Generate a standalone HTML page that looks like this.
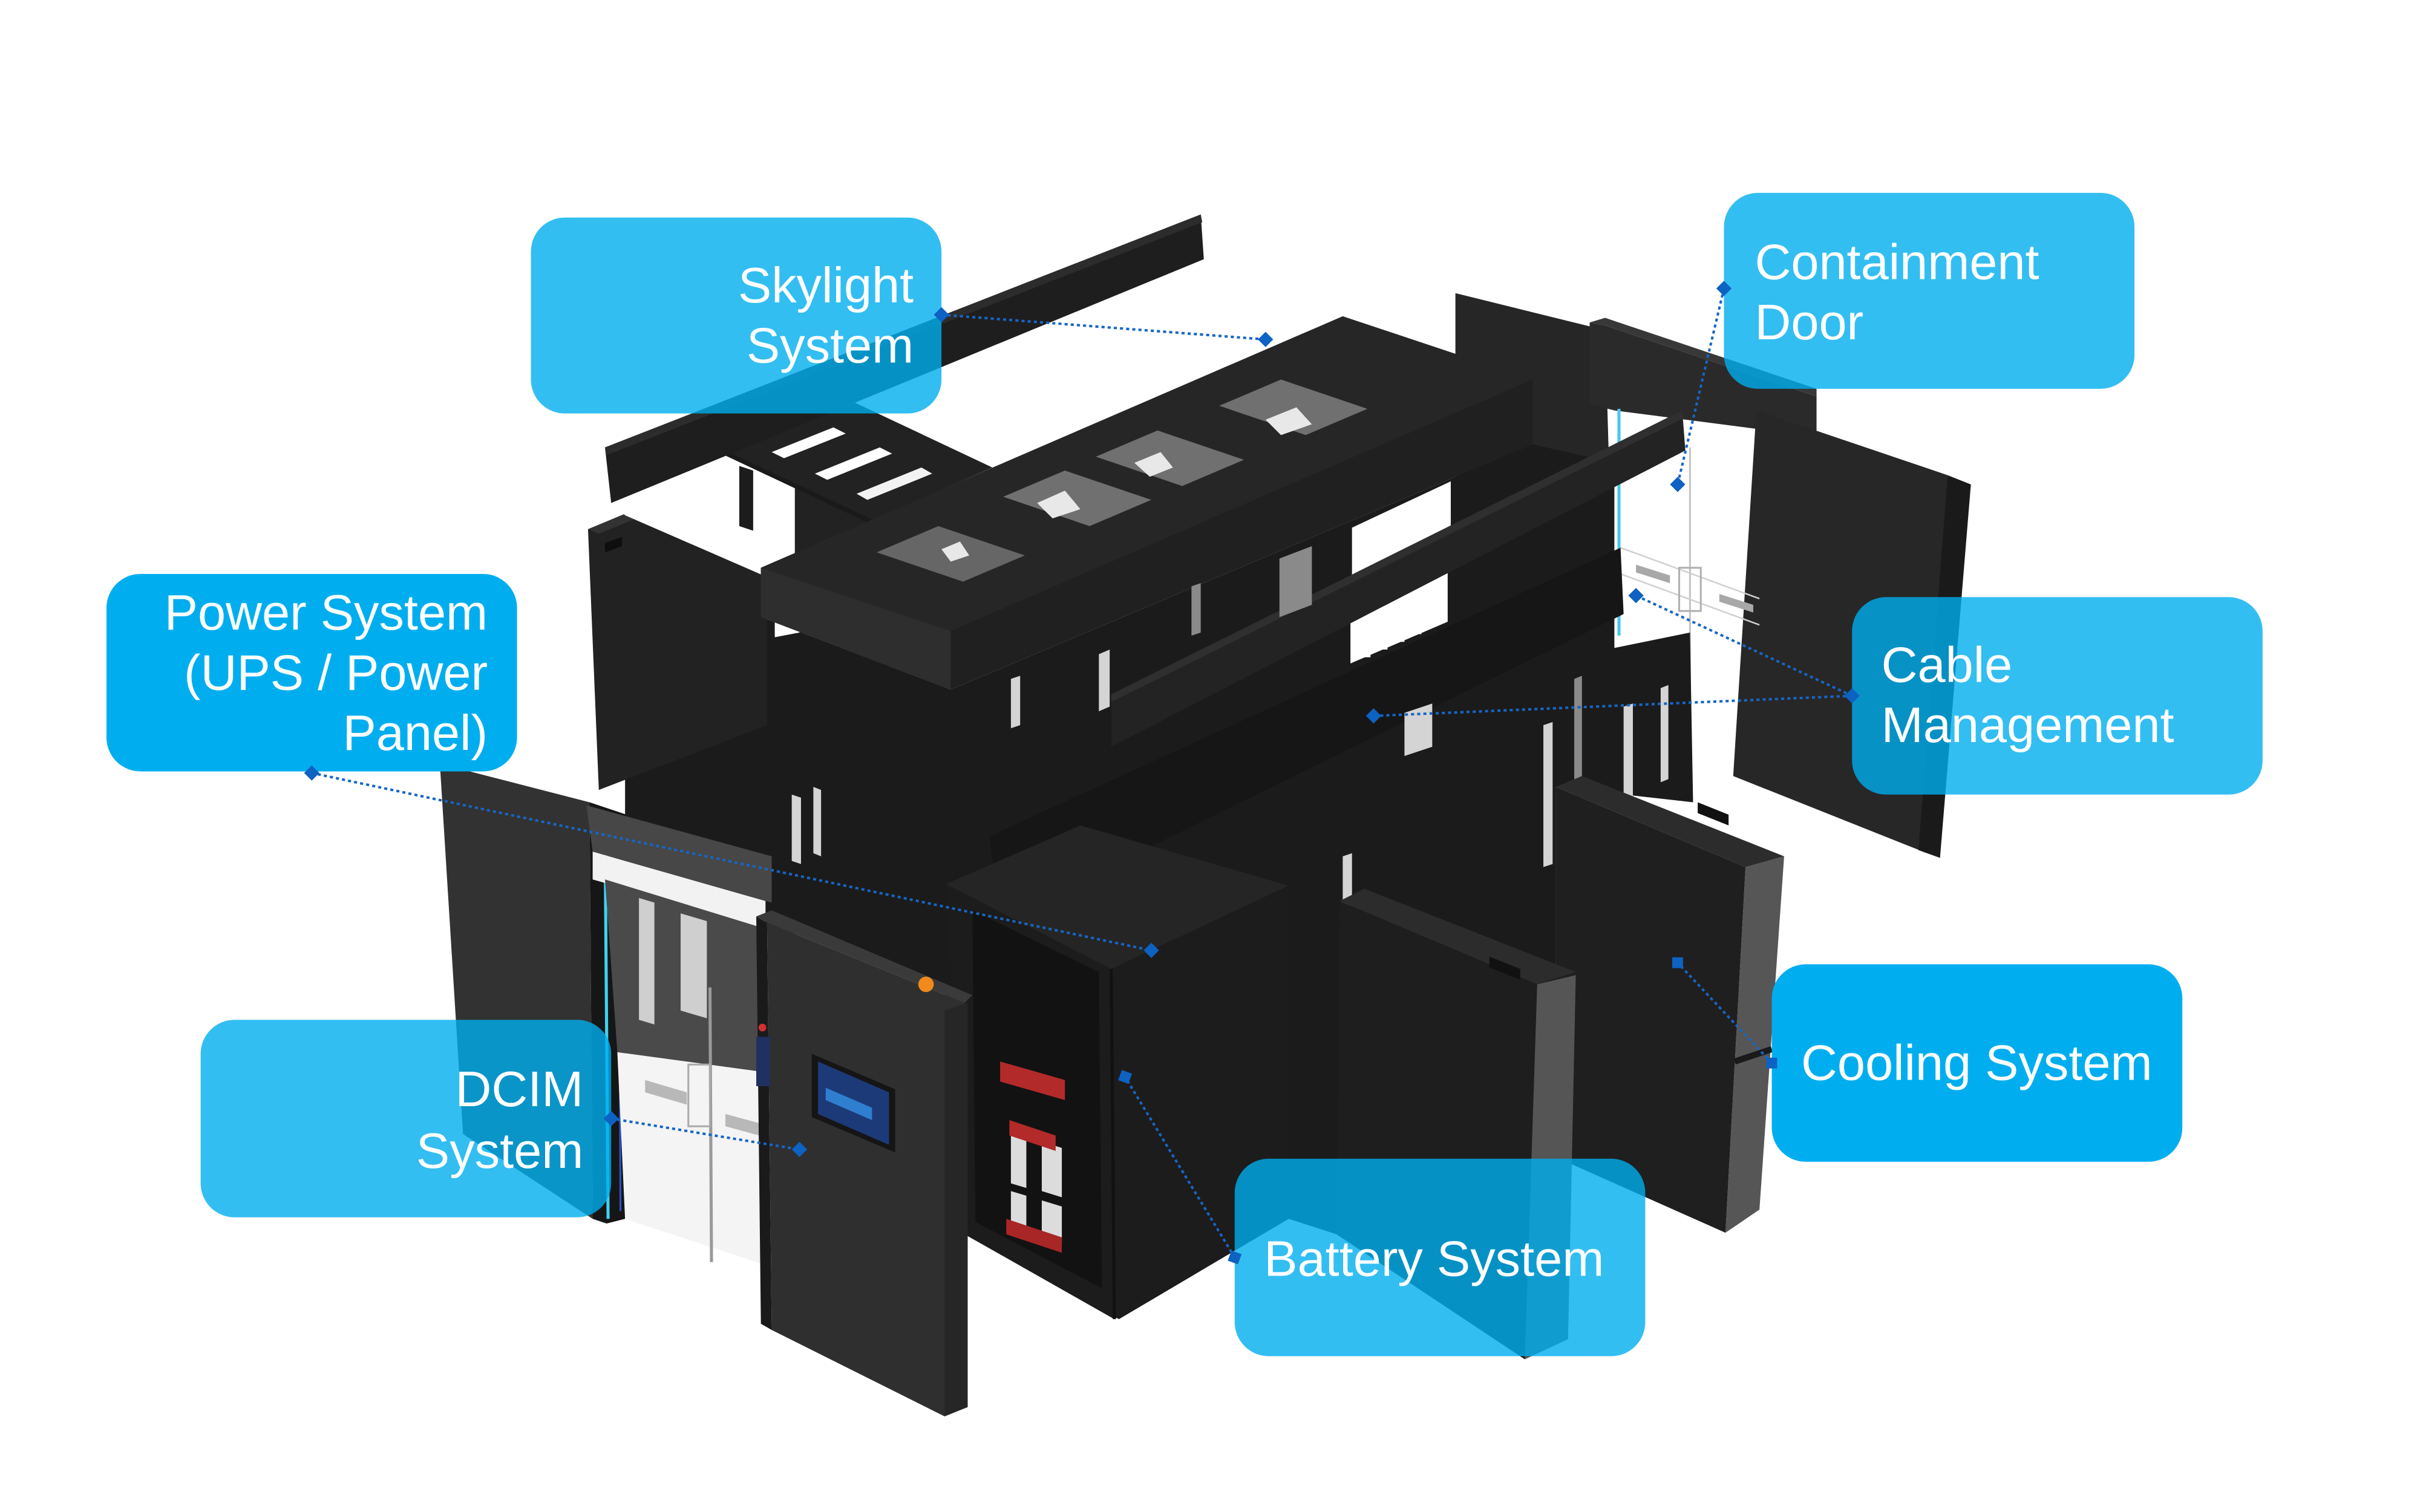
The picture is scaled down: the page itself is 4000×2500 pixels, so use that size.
<!DOCTYPE html>
<html><head><meta charset="utf-8">
<style>
html,body{margin:0;padding:0;background:#fff;}
body{width:4000px;height:2500px;overflow:hidden;}
svg{display:block;}
.lbl{font-family:"Liberation Sans",Arial,sans-serif;font-size:32.5px;fill:#fff;}
</style></head>
<body>
<svg width="4000" height="2500" viewBox="0 0 1568 980" preserveAspectRatio="none" xmlns="http://www.w3.org/2000/svg">
<rect x="0" y="0" width="1568" height="980" fill="#ffffff"/>

<!-- back containment panel -->
<polygon points="943,190 1040,214 1046,420 943,410" fill="#262626"/>
<!-- header block -->
<polygon points="1030,209 1040,211 1177,257 1177,283 1046,266 1030,262" fill="#2a2a2a"/>
<polygon points="1030,209 1040,206 1177,252 1177,257 1040,211" fill="#383838"/>
<!-- right door panel -->
<polygon points="1138,266 1262,308 1257,556 1241,550 1123,503" fill="#272727"/>
<polygon points="1262,308 1277,314 1257,556 1243,551" fill="#1a1a1a"/>
<!-- glass door details -->
<line x1="1095" y1="290" x2="1095" y2="465" stroke="#c4c4c4" stroke-width="1.2"/>
<line x1="1050" y1="355" x2="1140" y2="388" stroke="#d0d0d0" stroke-width="1"/>
<line x1="1050" y1="372" x2="1140" y2="405" stroke="#d0d0d0" stroke-width="1"/>
<polygon points="1060,366 1082,373 1082,378 1060,371" fill="#a8a8a8"/>
<polygon points="1114,385 1136,392 1136,397 1114,390" fill="#a8a8a8"/>
<rect x="1088" y="368" width="14" height="28" fill="none" stroke="#b0b0b0" stroke-width="1.2"/>
<line x1="1049" y1="265" x2="1049" y2="412" stroke="#49c6f0" stroke-width="2"/>

<!-- main rack mass -->
<polygon points="405,455 493,400 616,447 993,288 1046,300 1046,420 1095,410 1097,520 1008,510 1008,745 988,881 866,800 835,790 725,855 625,800 612,640 500,600 405,560" fill="#1b1b1b"/>

<!-- white gaps under roof -->
<polygon points="876,342 940,312 940,346 876,375" fill="#ffffff"/>
<polygon points="875,400 938,370 938,403 875,430" fill="#ffffff"/>

<!-- left back cabinet -->
<polygon points="381,343 405,333 497,374 497,470 388,512" fill="#222222"/>
<polygon points="381,343 405,333 412,336 388,346" fill="#333"/>
<polygon points="392,352 403,348 403,354 392,358" fill="#0e0e0e"/>

<!-- white area between bar and cabinet -->
<polygon points="398,327 471,294 515,315 515,385 497,374 405,334" fill="#ffffff"/>
<polygon points="515,313 563,338 563,375 515,388" fill="#222222"/>
<polygon points="479,302 488,305 488,344 479,341" fill="#1c1c1c"/>
<polygon points="502,396 518,392 518,410 502,413" fill="#ffffff"/>

<!-- roof ladder frame (open grid) -->
<polygon points="471,294 554,261 643,303 563,338" fill="#222222"/>
<polygon points="500,293 540,277 548,281 508,297" fill="#ffffff"/>
<polygon points="528,307 570,290 578,294 536,311" fill="#ffffff"/>
<polygon points="555,320 597,303 604,307 562,324" fill="#f2f2f2"/>
<line x1="439" y1="279" x2="647" y2="377" stroke="#1a1a1a" stroke-width="3"/>

<!-- top skylight bar -->
<polygon points="392,290 778,139 780,168 396,326" fill="#1e1e1e"/>
<polygon points="392,290 778,139 779,144 393,295" fill="#2c2c2c"/>

<!-- roof -->
<polygon points="493,368 870,205 993,246 993,288 616,447 493,400" fill="#202020"/>
<polygon points="493,368 870,205 993,246 616,409" fill="#262626"/>
<polygon points="493,368 616,409 616,447 493,400" fill="#2e2e2e"/>
<!-- skylight windows -->
<polygon points="568,358 608,341 664,360 624,377" fill="#666666"/>
<polygon points="650,322 690,305 746,324 706,341" fill="#707070"/>
<polygon points="710,296 750,279 806,298 766,315" fill="#707070"/>
<polygon points="790,263 830,246 886,265 846,282" fill="#707070"/>
<polygon points="672,326 690,318 700,330 682,336" fill="#e8e8e8"/>
<polygon points="735,300 752,293 760,303 745,309" fill="#e8e8e8"/>
<polygon points="820,272 840,264 850,275 830,282" fill="#e8e8e8"/>
<polygon points="610,356 622,351 628,360 616,364" fill="#e8e8e8"/>

<!-- horizontal cable cover bar -->
<polygon points="720,450 1090,266 1092,292 720,484" fill="#232323"/>
<polygon points="720,450 1090,266 1091,271 720,455" fill="#2f2f2f"/>
<!-- comb tray -->
<polygon points="641,542 1050,355 1052,398 682,580 645,575" fill="#161616"/>
<g fill="#ffffff">
<rect x="884" y="418" width="4" height="8"/>
<rect x="895" y="413" width="4" height="8"/>
<rect x="906" y="408" width="4" height="8"/>
<rect x="917" y="403" width="4" height="8"/>
</g>

<!-- rack vent stripes -->
<g fill="#d4d4d4">
<polygon points="513,515 519,517 519,560 513,558"/>
<polygon points="527,510 532,512 532,555 527,553"/>
<polygon points="655,440 661,438 661,470 655,472"/>
<polygon points="712,424 719,421 719,458 712,461"/>
<polygon points="1000,470 1006,468 1006,560 1000,562"/>
<polygon points="1052,458 1058,456 1058,520 1052,522"/>
<polygon points="1076,446 1081,444 1081,505 1076,507"/>
<polygon points="790,735 797,733 797,765 790,767"/>
<polygon points="910,462 928,456 928,484 910,490"/>
<polygon points="870,555 876,553 876,600 870,602"/>
</g>
<g fill="#8a8a8a">
<polygon points="829,362 850,354 850,392 829,400"/>
<polygon points="1020,440 1025,438 1025,520 1020,522"/>
<polygon points="772,380 778,378 778,410 772,412"/>
</g>

<!-- front battery rack -->
<polygon points="613,573 700,535 835,574 835,790 722,855 625,800" fill="#1c1c1c"/>
<polygon points="613,573 700,535 835,574 720,628" fill="#252525"/>
<polygon points="630,590 712,630 714,835 632,792" fill="#121212"/>
<polygon points="648,688 690,700 690,713 648,701" fill="#b22a2a"/>
<polygon points="655,735 665,738 665,770 655,767" fill="#dcdcdc"/>
<polygon points="675,740 688,744 688,776 675,772" fill="#dcdcdc"/>
<polygon points="655,772 665,775 665,800 655,797" fill="#dcdcdc"/>
<polygon points="675,778 688,782 688,806 675,802" fill="#dcdcdc"/>
<polygon points="652,790 688,802 688,812 652,800" fill="#a82626"/>
<polygon points="654,726 684,736 684,746 654,736" fill="#b22a2a"/>
<line x1="720" y1="628" x2="722" y2="855" stroke="#111" stroke-width="2"/>

<!-- cooling unit 2 (back) -->
<polygon points="1008,510 1131,562 1118,799 1008,750" fill="#1f1f1f"/>
<polygon points="1131,562 1156,555 1140,784 1118,799" fill="#565656"/>
<polygon points="1008,510 1025,503 1156,555 1131,562" fill="#2c2c2c"/>
<polygon points="1100,520 1120,528 1120,535 1100,527" fill="#111"/>
<line x1="1124" y1="688" x2="1148" y2="680" stroke="#1a1a1a" stroke-width="4"/>

<!-- cooling unit 1 (front) -->
<polygon points="868,584 996,638 988,881 866,800" fill="#1e1e1e"/>
<polygon points="996,638 1021,632 1016,868 988,881" fill="#555555"/>
<polygon points="868,584 884,576 1021,630 996,638" fill="#2c2c2c"/>
<polygon points="965,620 985,628 985,635 965,627" fill="#111"/>

<!-- left door panel -->
<polygon points="285,495 382,520 384,790 300,735" fill="#323232"/>
<polygon points="382,520 406,528 405,790 393,793 384,790" fill="#161616"/>
<line x1="392" y1="535" x2="394" y2="790" stroke="#3fd2f2" stroke-width="2"/>
<line x1="401" y1="545" x2="402" y2="785" stroke="#2455c8" stroke-width="1.2"/>
<!-- door frame header + sign -->
<polygon points="380,522 500,555 500,585 384,552" fill="#474747"/>
<polygon points="384,552 496,584 496,602 384,570" fill="#f2f2f2"/>
<polygon points="392,570 496,602 496,695 400,682" fill="#4a4a4a"/>
<polygon points="414,582 424,585 424,664 414,661" fill="#cfcfcf"/>
<polygon points="441,592 458,597 458,660 441,655" fill="#cfcfcf"/>
<polygon points="400,682 496,695 496,820 405,790" fill="#f4f4f4"/>
<polygon points="418,700 445,708 445,716 418,708" fill="#b8b8b8"/>
<polygon points="470,722 492,728 492,736 470,730" fill="#b8b8b8"/>
<line x1="460" y1="640" x2="461" y2="818" stroke="#9a9a9a" stroke-width="2"/>
<rect x="446" y="690" width="14" height="40" fill="none" stroke="#aaa" stroke-width="1.2"/>

<!-- DCIM door -->
<polygon points="490,594 497,598 500,862 493,858" fill="#1a1a1a"/>
<polygon points="490,594 500,590 630,645 625,650 497,598" fill="#3a3a3a"/>
<polygon points="497,598 625,650 627,912 612,918 500,862" fill="#2f2f2f"/>
<polygon points="612,655 627,650 627,912 612,918" fill="#262626"/>
<polygon points="526,683 580,706 580,747 526,724" fill="#151515"/>
<polygon points="530,688 576,708 576,742 530,722" fill="#1d3a78"/>
<polygon points="535,705 565,718 565,726 535,713" fill="#2f7fd0"/>
<circle cx="600" cy="638" r="5" fill="#f08a1c"/>
<rect x="490" y="672" width="9" height="32" fill="#203060"/>
<circle cx="494" cy="666" r="2.5" fill="#d03030"/>

<!-- connectors -->
<g stroke="#1766c4" stroke-width="1.6" stroke-dasharray="2 2" fill="none">
<line x1="610" y1="204" x2="820" y2="220"/>
<line x1="1117" y1="187" x2="1087" y2="314"/>
<line x1="202" y1="501" x2="746" y2="616"/>
<line x1="1200" y1="451" x2="1060" y2="386"/>
<line x1="1200" y1="451" x2="890" y2="464"/>
<line x1="1148" y1="689" x2="1087" y2="624"/>
<line x1="396" y1="725" x2="518" y2="745"/>
<line x1="800" y1="815" x2="729" y2="698"/>
</g>

<!-- label boxes -->
<rect x="344" y="141" width="266" height="127" rx="22" fill="#00aeef" fill-opacity="0.8"/>
<rect x="1117" y="125" width="266" height="127" rx="22" fill="#00aeef" fill-opacity="0.8"/>
<rect x="69" y="372" width="266" height="128" rx="22" fill="#00aeef"/>
<rect x="1200" y="387" width="266" height="128" rx="22" fill="#00aeef" fill-opacity="0.8"/>
<rect x="1148" y="625" width="266" height="128" rx="22" fill="#00aeef"/>
<rect x="130" y="661" width="266" height="128" rx="22" fill="#00aeef" fill-opacity="0.8"/>
<rect x="800" y="751" width="266" height="128" rx="22" fill="#00aeef" fill-opacity="0.8"/>

<!-- diamonds -->
<g fill="#0d62c2">
<rect x="-3.5" y="-3.5" width="7" height="7" transform="translate(610,204) rotate(45)"/>
<rect x="-3.5" y="-3.5" width="7" height="7" transform="translate(820,220) rotate(45)"/>
<rect x="-3.5" y="-3.5" width="7" height="7" transform="translate(1117,187) rotate(45)"/>
<rect x="-3.5" y="-3.5" width="7" height="7" transform="translate(1087,314) rotate(45)"/>
<rect x="-3.5" y="-3.5" width="7" height="7" transform="translate(202,501) rotate(45)"/>
<rect x="-3.5" y="-3.5" width="7" height="7" transform="translate(746,616) rotate(45)"/>
<rect x="-3.5" y="-3.5" width="7" height="7" transform="translate(1200,451) rotate(45)"/>
<rect x="-3.5" y="-3.5" width="7" height="7" transform="translate(1060,386) rotate(45)"/>
<rect x="-3.5" y="-3.5" width="7" height="7" transform="translate(890,464) rotate(45)"/>
<rect x="-3.5" y="-3.5" width="7" height="7" transform="translate(1148,689) rotate(0)"/>
<rect x="-3.5" y="-3.5" width="7" height="7" transform="translate(1087,624) rotate(0)"/>
<rect x="-3.5" y="-3.5" width="7" height="7" transform="translate(396,725) rotate(45)"/>
<rect x="-3.5" y="-3.5" width="7" height="7" transform="translate(518,745) rotate(45)"/>
<rect x="-3.5" y="-3.5" width="7" height="7" transform="translate(800,815) rotate(20)"/>
<rect x="-3.5" y="-3.5" width="7" height="7" transform="translate(729,698) rotate(20)"/>
</g>

<!-- label text -->
<text class="lbl" x="592" y="196" text-anchor="end">Skylight</text>
<text class="lbl" x="592" y="235" text-anchor="end">System</text>
<text class="lbl" x="1137" y="181">Containment</text>
<text class="lbl" x="1137" y="220">Door</text>
<text class="lbl" x="316" y="408" text-anchor="end">Power System</text>
<text class="lbl" x="316" y="447" text-anchor="end">(UPS / Power</text>
<text class="lbl" x="316" y="486" text-anchor="end">Panel)</text>
<text class="lbl" x="1219" y="442">Cable</text>
<text class="lbl" x="1219" y="481">Management</text>
<text class="lbl" x="1167" y="700">Cooling System</text>
<text class="lbl" x="378" y="717" text-anchor="end">DCIM</text>
<text class="lbl" x="378" y="757" text-anchor="end">System</text>
<text class="lbl" x="819" y="827">Battery System</text>
</svg>
</body></html>
